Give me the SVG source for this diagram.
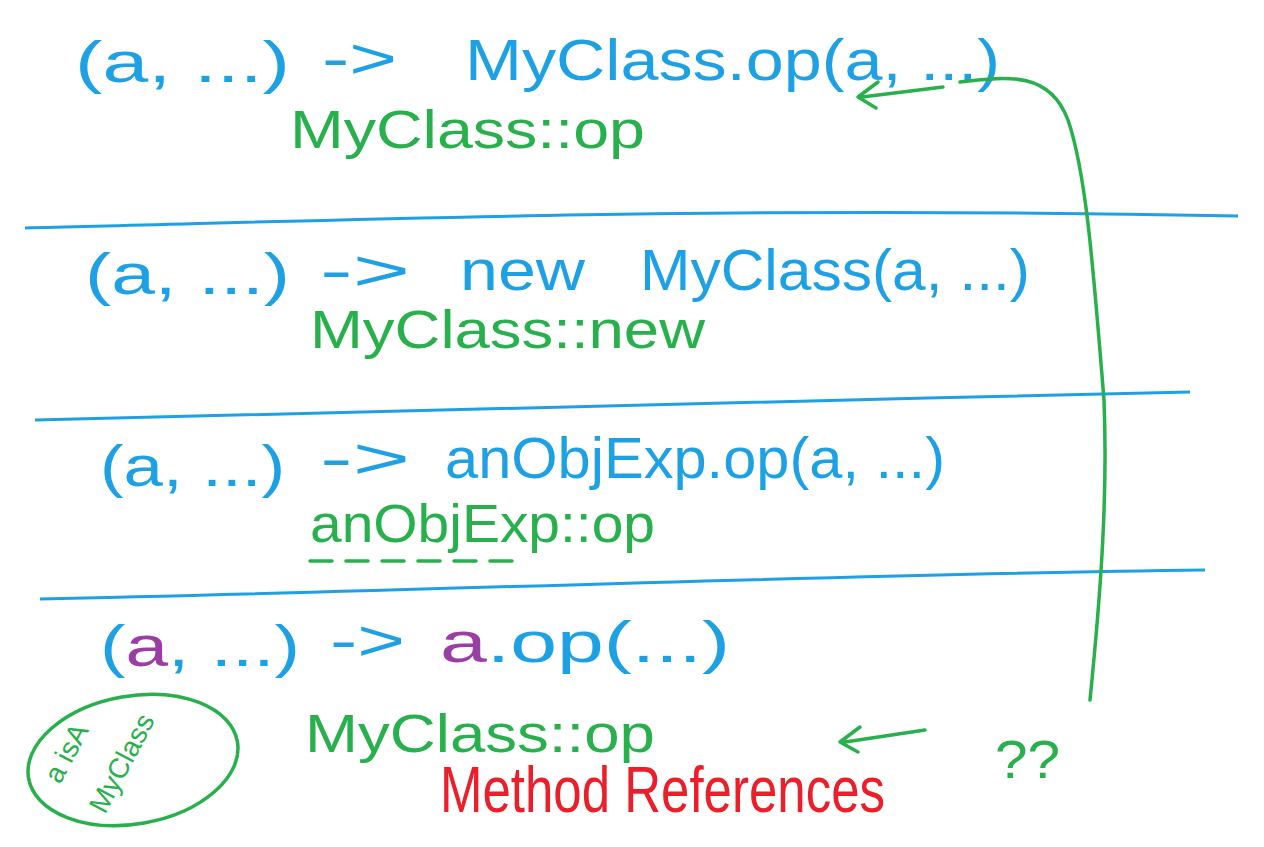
<svg xmlns="http://www.w3.org/2000/svg" width="1264" height="847" viewBox="0 0 1264 847">
<style>
text{font-family:"Liberation Sans","DejaVu Sans",sans-serif;}
.b{fill:#1ea1e4;font-size:58px;}
.g{fill:#27b04b;font-size:54px;}
.p{fill:#9a3ea6;}
.r{fill:#ea1f2a;font-size:64px;}
.sm{fill:#27b04b;font-size:28px;}
.ln{stroke:#1ea1e4;stroke-width:3;fill:none;}
.gl{stroke:#27b04b;stroke-width:3.5;fill:none;stroke-linecap:round;stroke-linejoin:round;}
</style>
<rect width="1264" height="847" fill="#fff"/>
<g id="row1">
<text class="b" x="75" y="82" textLength="215" lengthAdjust="spacingAndGlyphs">(a, ...)</text>
<text class="b" x="322" y="78" textLength="75" lengthAdjust="spacingAndGlyphs">-&gt;</text>
<text class="b" x="465" y="80" textLength="535" lengthAdjust="spacingAndGlyphs">MyClass.op(a, ...)</text>
<text class="g" x="290" y="148" textLength="355" lengthAdjust="spacingAndGlyphs">MyClass::op</text>
</g>
<g id="row2">
<text class="b" x="85" y="294" textLength="205" lengthAdjust="spacingAndGlyphs">(a, ...)</text>
<text class="b" x="320" y="290" textLength="90" lengthAdjust="spacingAndGlyphs">-&gt;</text>
<text class="b" x="460" y="290" textLength="125" lengthAdjust="spacingAndGlyphs">new</text>
<text class="b" x="640" y="290" textLength="390" lengthAdjust="spacingAndGlyphs">MyClass(a, ...)</text>
<text class="g" x="310" y="348" textLength="395" lengthAdjust="spacingAndGlyphs">MyClass::new</text>
</g>
<g id="row3">
<text class="b" x="100" y="486" textLength="185" lengthAdjust="spacingAndGlyphs">(a, ...)</text>
<text class="b" x="320" y="478" textLength="90" lengthAdjust="spacingAndGlyphs">-&gt;</text>
<text class="b" x="445" y="478" textLength="500" lengthAdjust="spacingAndGlyphs">anObjExp.op(a, ...)</text>
<text class="g" x="310" y="542" textLength="345" lengthAdjust="spacingAndGlyphs">anObjExp::op</text>
<path class="gl" d="M310 561 H520" stroke-dasharray="22 14"/>
</g>
<g id="row4">
<text class="b" x="100" y="666" textLength="200" lengthAdjust="spacingAndGlyphs">(<tspan class="p">a</tspan>, ...)</text>
<text class="b" x="330" y="660" textLength="75" lengthAdjust="spacingAndGlyphs">-&gt;</text>
<text class="b" x="440" y="662" textLength="290" lengthAdjust="spacingAndGlyphs"><tspan class="p">a</tspan>.op(...)</text>
<text class="g" x="305" y="752" textLength="350" lengthAdjust="spacingAndGlyphs">MyClass::op</text>
<text class="g" x="995" y="778" textLength="65" lengthAdjust="spacingAndGlyphs" font-size="80">??</text>
</g>
<g id="note">
<ellipse cx="133" cy="760" rx="106" ry="64" class="gl" transform="rotate(-10 133 760)"/>
<text class="sm" transform="translate(60 785) rotate(-62)">a isA</text>
<text class="sm" transform="translate(105 815) rotate(-62)">MyClass</text>
</g>
<g id="title">
<text class="r" x="440" y="812" textLength="445" lengthAdjust="spacingAndGlyphs">Method References</text>
</g>
<g id="separators">
<path class="ln" d="M25 228 C300 222 700 205 1238 216"/>
<path class="ln" d="M35 420 C400 414 800 400 1190 392"/>
<path class="ln" d="M40 599 C400 592 800 575 1205 570"/>
</g>
<g id="connectors">
<path class="gl" d="M960 82 C1010 76 1050 72 1068 120 C1085 170 1092 250 1104 400 C1108 500 1100 600 1090 700"/>
<path class="gl" d="M943 87 L862 97 M878 82 L858 97 L876 108"/>
<path class="gl" d="M925 730 L845 742 M860 727 L840 742 L858 752"/>
</g>
</svg>
